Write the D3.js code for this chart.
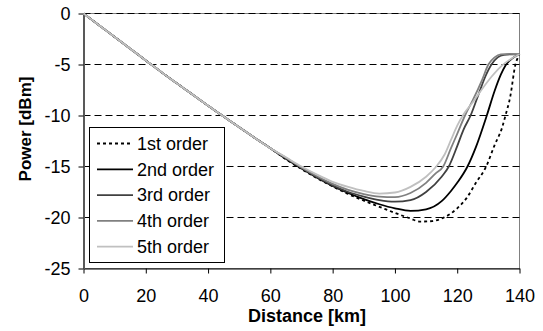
<!DOCTYPE html>
<html>
<head>
<meta charset="utf-8">
<script src="https://cdn.jsdelivr.net/npm/d3@7"></script>
<style>
body { margin: 0; background: #fff; }
text { font-family: "Liberation Sans", Arial, sans-serif; }
</style>
</head>
<body>
<div id="chart"></div>
<script>
var seriesNames = ["1st order", "2nd order", "3rd order", "4th order", "5th order"];
var xTicks = [0, 20, 40, 60, 80, 100, 120, 140];
var yTicks = [0, -5, -10, -15, -20, -25];

// all orders share the same fibre loss up to ~60 km
var sharedKm = [0, 5, 10, 15, 20, 25, 30, 35, 40, 45, 50, 55, 60];
var sharedDbm = [0, -1.15, -2.3, -3.45, -4.6, -5.75, -6.85, -7.95, -9.05, -10.1, -11.15, -12.2, -13.2];

var order1Km = [65, 70, 75, 80, 85, 90, 95, 100, 105, 108, 112, 115, 118, 120, 123, 126, 129.3, 132, 134.4, 135.5, 137, 138.7, 139.5, 140];
var order1Dbm = [-14.3, -15.25, -16.15, -16.95, -17.7, -18.35, -18.95, -19.55, -20.1, -20.4, -20.35, -20.1, -19.6, -19.1, -18.1, -16.6, -15, -12.9, -11.2, -10, -8.2, -5, -4.3, -4];

var order2Km = [65, 70, 75, 80, 85, 90, 95, 100, 105, 110, 115, 118, 120, 123.3, 126, 129.5, 132, 134, 135.5, 137.7, 140];
var order2Dbm = [-14.25, -15.2, -16.1, -16.9, -17.6, -18.2, -18.7, -19.1, -19.35, -19.2, -18.4, -17.4, -16.6, -15, -13.1, -10, -7.6, -6, -5.1, -4.4, -4];

var order3Km = [65, 70, 75, 80, 85, 90, 95, 100, 105, 110, 115, 117.3, 120, 122, 124.3, 127, 129, 131, 133, 135, 138, 140];
var order3Dbm = [-14.2, -15.15, -16.05, -16.85, -17.5, -17.95, -18.3, -18.45, -18.3, -17.5, -16, -15, -13, -11.4, -10, -7.8, -6.2, -5, -4.3, -4.05, -4, -4];

var order4Km = [65, 70, 75, 80, 85, 90, 95, 100, 105, 110, 113, 115.5, 118, 120, 122.5, 125, 128, 130, 132, 134, 137, 140];
var order4Dbm = [-14.15, -15.1, -15.95, -16.7, -17.3, -17.7, -17.95, -18, -17.6, -16.6, -15.7, -15, -13.2, -11.8, -10, -8.5, -6.5, -5, -4.3, -4, -3.95, -4];

var order5Km = [65, 70, 75, 80, 85, 90, 95, 100, 105, 110, 113, 116, 118, 120, 122, 125, 128, 131, 134, 137, 140];
var order5Dbm = [-14.1, -15, -15.8, -16.5, -17, -17.4, -17.65, -17.55, -17, -16, -15.1, -13.8, -12.4, -11, -9.9, -8.7, -7.4, -6.2, -5.2, -4.5, -4];

var tailKm = [order1Km, order2Km, order3Km, order4Km, order5Km];
var tailDbm = [order1Dbm, order2Dbm, order3Dbm, order4Dbm, order5Dbm];

var lineColors = ["#000000", "#000000", "#404040", "#808080", "#c0c0c0"];
var lineDash = ["3,3", null, null, null, null];

var series = seriesNames.map(function(name, i) {
    var km = sharedKm.concat(tailKm[i]);
    var dbm = sharedDbm.concat(tailDbm[i]);
    return { name: name, points: km.map(function(k, j) { return { km: k, dbm: dbm[j] }; }) };
});

var svgWidth = 543, svgHeight = 331;

var svg = d3.select("#chart")
    .append("svg")
    .attr("width", svgWidth)
    .attr("height", svgHeight);

var x = d3.scaleLinear().domain([0, 140]).range([83.5, 519.5]);
var y = d3.scaleLinear().domain([-25, 0]).range([268.5, 13.5]);

// plot frame
svg.append("rect")
    .attr("x", x(0))
    .attr("y", y(0))
    .attr("width", x(140) - x(0))
    .attr("height", y(-25) - y(0))
    .attr("fill", "none")
    .attr("stroke", "#808080");

// dashed gridlines
svg.selectAll(".grid")
    .data(yTicks.filter(function(d) { return d > -25; }))
    .enter().append("line")
    .attr("class", "grid")
    .attr("x1", x(0))
    .attr("x2", x(140))
    .attr("y1", function(d) { return y(d); })
    .attr("y2", function(d) { return y(d); })
    .attr("stroke", "#000")
    .attr("stroke-dasharray", "7,4");

var xAxis = svg.append("g")
    .attr("transform", "translate(0," + y(-25) + ")")
    .call(d3.axisBottom(x).tickValues(xTicks).tickSize(5).tickSizeOuter(0).tickPadding(16));

var yAxis = svg.append("g")
    .attr("transform", "translate(" + x(0) + ",0)")
    .call(d3.axisLeft(y).tickValues(yTicks).tickFormat(function(d) { return String(d); })
        .tickSize(5).tickSizeOuter(0).tickPadding(8));

yAxis.select(".domain").attr("stroke", "#595959").attr("stroke-width", 2);

[xAxis, yAxis].forEach(function(g) {
    g.selectAll("text")
        .attr("font-family", "Liberation Sans, Arial, sans-serif")
        .attr("font-size", 18)
        .attr("fill", "#000");
});

// curves
var line = d3.line()
    .x(function(d) { return x(d.km); })
    .y(function(d) { return y(d.dbm); })
    .curve(d3.curveMonotoneX);

svg.selectAll(".curve")
    .data(series)
    .enter().append("path")
    .attr("class", "curve")
    .attr("d", function(d) { return line(d.points); })
    .attr("fill", "none")
    .attr("stroke", function(d, i) { return lineColors[i]; })
    .attr("stroke-width", 1.8)
    .attr("stroke-dasharray", function(d, i) { return lineDash[i]; });

// axis titles
svg.append("text")
    .attr("x", 307)
    .attr("y", 322)
    .attr("text-anchor", "middle")
    .attr("font-weight", "bold")
    .attr("font-size", 18)
    .text("Distance [km]");

svg.append("text")
    .attr("transform", "translate(31,129) rotate(-90)")
    .attr("text-anchor", "middle")
    .attr("font-weight", "bold")
    .attr("font-size", 17)
    .text("Power [dBm]");

// legend
var legend = svg.append("g");

legend.append("rect")
    .attr("x", 89.5)
    .attr("y", 127.5)
    .attr("width", 135)
    .attr("height", 135)
    .attr("fill", "#fff")
    .attr("stroke", "#000");

var rows = legend.selectAll(".row")
    .data(series)
    .enter().append("g")
    .attr("class", "row")
    .attr("transform", function(d, i) { return "translate(0," + (143.5 + i * 25.8) + ")"; });

rows.append("line")
    .attr("x1", 97)
    .attr("x2", 133)
    .attr("stroke", function(d, i) { return lineColors[i]; })
    .attr("stroke-width", 1.8)
    .attr("stroke-dasharray", function(d, i) { return lineDash[i]; });

rows.append("text")
    .attr("x", 137)
    .attr("dy", "0.35em")
    .attr("font-size", 18)
    .text(function(d) { return d.name; });
</script>
</body>
</html>
